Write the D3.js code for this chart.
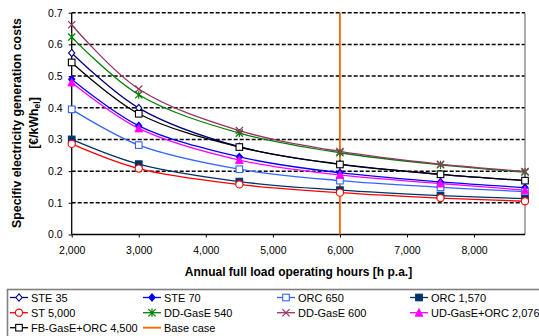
<!DOCTYPE html>
<html>
<head>
<meta charset="utf-8">
<script src="https://cdn.jsdelivr.net/npm/d3@7"></script>
<style>
  body { margin: 0; background: #fff; }
  svg { display: block; font-family: "Liberation Sans", Arial, sans-serif; }
</style>
</head>
<body>
<div id="chart"></div>
<script>
// Operating hours where each series has a marker
const hours = [2000, 3000, 4500, 6000, 7500, 8760];

// Specific electricity generation costs [€/kWh_el]
const ste35   = [0.573, 0.399, 0.277, 0.222, 0.190, 0.170];
const ste70   = [0.490, 0.343, 0.245, 0.195, 0.166, 0.148];
const orc650  = [0.395, 0.282, 0.206, 0.170, 0.149, 0.135];
const orc1570 = [0.300, 0.222, 0.167, 0.140, 0.123, 0.113];
const st5000  = [0.286, 0.208, 0.158, 0.132, 0.115, 0.105];
const dd540   = [0.623, 0.441, 0.320, 0.258, 0.220, 0.197];
const dd600   = [0.662, 0.459, 0.328, 0.262, 0.222, 0.199];
const udOrc   = [0.480, 0.335, 0.235, 0.188, 0.161, 0.140];
const fbOrc   = [0.543, 0.381, 0.276, 0.221, 0.190, 0.170];

const baseCaseHours = 6000;
const xTicks = [2000, 3000, 4000, 5000, 6000, 7000, 8000];
const yTicks = [0, 0.1, 0.2, 0.3, 0.4, 0.5, 0.6, 0.7];

const seriesNames = ['STE 35', 'STE 70', 'ORC 650', 'ORC 1,570', 'ST 5,000',
  'DD-GasE 540', 'DD-GasE 600', 'UD-GasE+ORC 2,076', 'FB-GasE+ORC 4,500'];
const seriesValues = [ste35, ste70, orc650, orc1570, st5000, dd540, dd600, udOrc, fbOrc];
const seriesColors = ['#000080', '#0000ff', '#3366ff', '#003366', '#ff0000',
  '#008000', '#993366', '#ff00ff', '#000000'];
const seriesMarkers = ['diamondOpen', 'diamond', 'squareOpen', 'square', 'circleOpen',
  'star', 'cross', 'triangle', 'squareOpen'];

const W = 539, H = 336;
const plot = { left: 71.7, right: 525, top: 12.7, bottom: 234.5 };

const svg = d3.select('#chart').append('svg')
  .attr('width', W).attr('height', H);

const x = d3.scaleLinear().domain([2000, 8760]).range([plot.left, plot.right]);
const y = d3.scaleLinear().domain([0, 0.7]).range([plot.bottom, plot.top]);

// Dashed gridlines
svg.append('g').selectAll('line')
  .data(yTicks.filter(d => d > 0))
  .join('line')
  .attr('x1', plot.left).attr('x2', plot.right)
  .attr('y1', d => y(d)).attr('y2', d => y(d))
  .attr('stroke', '#000').attr('stroke-width', 1.5)
  .attr('stroke-dasharray', '4,2');

// Right border of plot area
svg.append('line')
  .attr('x1', plot.right).attr('x2', plot.right)
  .attr('y1', plot.top).attr('y2', plot.bottom)
  .attr('stroke', '#808080').attr('stroke-width', 1.3);

// Axes
const yAxis = svg.append('g')
  .attr('transform', `translate(${plot.left},0)`)
  .call(d3.axisLeft(y).tickValues(yTicks).tickFormat(d3.format('.1f')).tickSize(3).tickPadding(6));
const xAxis = svg.append('g')
  .attr('transform', `translate(0,${plot.bottom})`)
  .call(d3.axisBottom(x).tickValues(xTicks).tickFormat(d3.format(',')).tickSize(3).tickPadding(9));
[xAxis, yAxis].forEach(a => {
  a.select('.domain').attr('stroke', '#000').attr('stroke-width', 1.3);
  a.selectAll('.tick line').attr('stroke', '#000');
  a.selectAll('.tick text').attr('font-size', 10.5).attr('fill', '#000')
    .attr('font-family', '"Liberation Sans", Arial, sans-serif');
});
xAxis.select('.domain').attr('d', `M${plot.left},0H${plot.right}`);
yAxis.select('.domain').attr('d', `M0,${plot.bottom}V${plot.top}`);

// Axis titles
svg.append('text')
  .attr('x', 298.5).attr('y', 276.3)
  .attr('text-anchor', 'middle').attr('font-size', 12).attr('font-weight', 'bold')
  .text('Annual full load operating hours [h p.a.]');

const yTitle = svg.append('text')
  .attr('transform', 'translate(21,123) rotate(-90)')
  .attr('text-anchor', 'middle').attr('font-size', 12.3).attr('font-weight', 'bold');
yTitle.append('tspan').attr('x', 0).attr('dy', 0).text('Specifiv electricity generation costs');
const yTitle2 = yTitle.append('tspan').attr('x', 0).attr('dy', 16.5);
yTitle2.append('tspan').text('[€/kWh');
yTitle2.append('tspan').attr('font-size', 8.5).attr('dy', 2.5).text('el');
yTitle2.append('tspan').attr('dy', -2.5).text(']');

// Marker drawing
function drawMarker(g, type, color) {
  const s = 3.6;
  if (type === 'diamondOpen' || type === 'diamond') {
    g.append('path').attr('d', `M0,${-s}L${s * 0.85},0L0,${s}L${-s * 0.85},0Z`)
      .attr('fill', type === 'diamond' ? color : '#fff')
      .attr('stroke', color).attr('stroke-width', 1.1);
  } else if (type === 'squareOpen' || type === 'square') {
    g.append('rect').attr('x', -s + 0.3).attr('y', -s + 0.3)
      .attr('width', 2 * s - 0.6).attr('height', 2 * s - 0.6)
      .attr('fill', type === 'square' ? color : '#fff')
      .attr('stroke', color).attr('stroke-width', 1.1);
  } else if (type === 'circleOpen') {
    g.append('circle').attr('r', s).attr('fill', '#fff')
      .attr('stroke', color).attr('stroke-width', 1.1);
  } else if (type === 'triangle') {
    g.append('path').attr('d', `M0,${-s - 0.5}L${s + 0.3},${s}L${-s - 0.3},${s}Z`)
      .attr('fill', color).attr('stroke', color).attr('stroke-width', 0.8);
  } else if (type === 'cross') {
    g.append('path').attr('d', `M${-s},${-s}L${s},${s}M${-s},${s}L${s},${-s}`)
      .attr('stroke', color).attr('stroke-width', 1.2);
  } else if (type === 'star') {
    g.append('path').attr('d', `M${-s},${-s}L${s},${s}M${-s},${s}L${s},${-s}M0,${-s - 0.5}V${s + 0.5}`)
      .attr('stroke', color).attr('stroke-width', 1.2);
  }
}

const line = d3.line()
  .x(d => x(d[0])).y(d => y(d[1]))
  .curve(d3.curveCatmullRom.alpha(0.5));

// Series lines
const seriesData = seriesValues.map(vals => hours.map((h, i) => [h, vals[i]]));
svg.append('g').selectAll('path')
  .data(seriesData)
  .join('path')
  .attr('d', line)
  .attr('fill', 'none')
  .attr('stroke', (d, i) => seriesColors[i])
  .attr('stroke-width', 1.3);

// Base case vertical line
const baseColor = '#ff6600';
svg.append('line')
  .attr('x1', x(baseCaseHours)).attr('x2', x(baseCaseHours))
  .attr('y1', plot.top).attr('y2', plot.bottom)
  .attr('stroke', baseColor).attr('stroke-width', 1.8);

// Series markers
seriesData.forEach((pts, i) => {
  pts.forEach(p => {
    const g = svg.append('g').attr('transform', `translate(${x(p[0])},${y(p[1])})`);
    drawMarker(g, seriesMarkers[i], seriesColors[i]);
  });
});

// Legend
const legend = svg.append('g');
legend.append('rect')
  .attr('x', 7.5).attr('y', 289.5).attr('width', 560).attr('height', 80)
  .attr('fill', '#fff').attr('stroke', '#808080').attr('stroke-width', 1.6);

const legendItems = seriesNames.map((n, i) => ({ name: n, color: seriesColors[i], marker: seriesMarkers[i] }))
  .concat([{ name: 'Base case', color: baseColor, marker: null }]);
const colX = [10, 143, 277, 410];
const rowY = [297.5, 312.7, 327.7];

legendItems.forEach((item, i) => {
  const g = legend.append('g')
    .attr('transform', `translate(${colX[i % 4]},${rowY[Math.floor(i / 4)]})`);
  g.append('line').attr('x1', 0).attr('x2', 18).attr('y1', 0).attr('y2', 0)
    .attr('stroke', item.color).attr('stroke-width', item.marker ? 1.3 : 1.8);
  if (item.marker) drawMarker(g.append('g').attr('transform', 'translate(9,0)'), item.marker, item.color);
  g.append('text').attr('x', 21).attr('y', 4)
    .attr('font-size', 11).attr('fill', '#000').text(item.name);
});
</script>
</body>
</html>
